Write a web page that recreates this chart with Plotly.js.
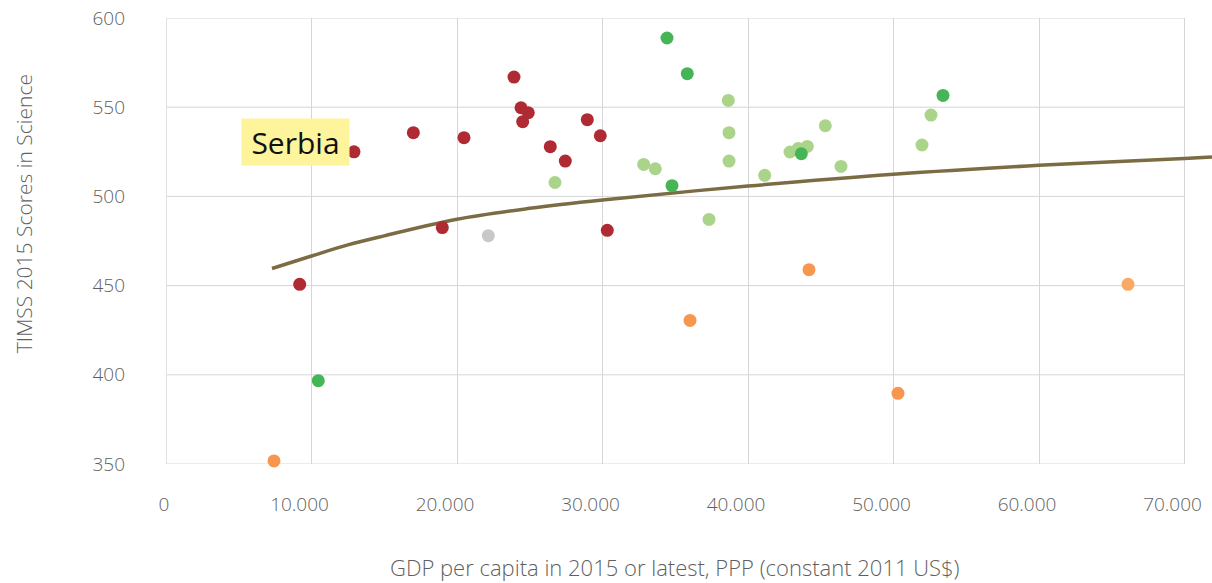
<!DOCTYPE html>
<html>
<head>
<meta charset="utf-8">
<script src="https://cdn.plot.ly/plotly-3.0.1.min.js"></script>
<style>html,body{margin:0;padding:0;background:#fff;}#chart{width:1212px;height:583px;}</style>
</head>
<body>
<div id="chart"></div>
<script>
// GDP per capita (x) and TIMSS 2015 science score (y), by colour group
const redGdp   = [12921, 17000, 20481, 18990, 23918, 24399, 24901, 24515, 28956, 29849, 26412, 27443, 30330, 9189];
const redScore = [525.0, 535.7, 532.9, 482.5, 566.9, 549.7, 546.9, 541.9, 543.0, 534.0, 527.9, 519.8, 481.0, 450.7];

const greenGdp   = [34433, 35828, 34777, 43665, 53402, 10467];
const greenScore = [588.8, 568.8, 506.0, 523.9, 556.6, 396.7];

const lightGreenGdp   = [38646, 38694, 38694, 32830, 33629, 26735, 37320, 41147, 42887, 43459, 44077, 45313, 46392, 51959, 52577];
const lightGreenScore = [553.8, 535.7, 519.8, 517.9, 515.5, 507.8, 487.1, 511.8, 524.9, 526.9, 528.0, 539.6, 516.8, 528.8, 545.6];

const orangeGdp   = [7423, 36014, 44192, 50309, 66117];
const orangeScore = [351.7, 430.5, 458.9, 389.6, 450.7];

const grayGdp   = [22151];
const grayScore = [478.0];

// Trend line
const trendGdp   = [7285, 10000, 12500, 15000, 20000, 25000, 30000, 40000, 50000, 60000, 70000, 71890];
const trendScore = [459.6, 466.6, 472.8, 477.9, 487.2, 493.3, 498.0, 505.8, 512.4, 517.4, 521.2, 522.1];

const yTicks = [350, 400, 450, 500, 550, 600];
const xTicks = [0, 10000, 20000, 30000, 40000, 50000, 60000, 70000];
const xTickText = ['0', '10.000', '20.000', '30.000', '40.000', '50.000', '60.000', '70.000'];

const FONT = '"Open Sans", "Noto Sans", sans-serif';
const GREY = '#5f5f5f';
const mk = (x, y, color) => ({
  type: 'scatter', mode: 'markers', x: x, y: y, cliponaxis: false,
  marker: {size: 13, color: color, line: {width: 0}}, hoverinfo: 'x+y', showlegend: false
});

const traces = [
  {type: 'scatter', mode: 'lines', x: trendGdp, y: trendScore,
   line: {color: '#7B6C43', width: 3.5, shape: 'spline', smoothing: 1}, showlegend: false, hoverinfo: 'skip'},
  mk(lightGreenGdp, lightGreenScore, '#A9D48A'),
  mk(redGdp, redScore, '#B02A33'),
  mk(greenGdp, greenScore, '#46B555'),
  mk(orangeGdp, orangeScore, ['#F7964F', '#F7964F', '#F7964F', '#F7964F', '#F9A966']),
  mk(grayGdp, grayScore, '#C8C8CA')
];

const shapes = yTicks.map(v => ({
  type: 'line', xref: 'x', yref: 'y', x0: 0, x1: 70000, y0: v, y1: v,
  line: {color: '#D6D6D6', width: 1}, layer: 'below'
}));

const layout = {
  width: 1212, height: 583,
  margin: {l: 166, r: 0, t: 18, b: 119},
  paper_bgcolor: '#fff', plot_bgcolor: '#fff',
  font: {family: FONT, color: GREY},
  showlegend: false,
  xaxis: {
    range: [0, 71890], tickvals: xTicks,
    ticktext: xTickText.map(t => t === '0' ? '\u00a0\u00a0\u00a0\u00a0' + t : t),
    showgrid: true, gridcolor: '#D6D6D6', gridwidth: 1,
    zeroline: true, zerolinecolor: '#E2E2E2', zerolinewidth: 1,
    showline: false, ticks: '', ticklabelstandoff: 27, ticklabelshift: -12,
    tickfont: {family: FONT, size: 19, color: GREY, weight: 300}
  },
  yaxis: {
    range: [350, 600], tickvals: yTicks, showgrid: false, zeroline: false, showline: false,
    ticks: '', ticklabelstandoff: 40,
    tickfont: {family: FONT, size: 19, color: GREY, weight: 300}
  },
  shapes: shapes,
  annotations: [
    {xref: 'paper', yref: 'paper', x: 0.4866, y: -0.2315, xanchor: 'center', yanchor: 'middle',
     text: 'GDP per capita in 2015 or latest, PPP (constant 2011 US$)', showarrow: false,
     font: {family: FONT, size: 22, color: GREY, weight: 300}},
    {xref: 'paper', yref: 'paper', x: -0.1358, y: 0.5623, xanchor: 'center', yanchor: 'middle',
     text: 'TIMSS 2015 Scores in Science', showarrow: false, textangle: -90,
     font: {family: FONT, size: 21, color: GREY, weight: 300}},
    {xref: 'x', yref: 'y', x: 8902, y: 530.7, text: 'Serbia', showarrow: false,
     font: {family: FONT, size: 30, color: '#111'}, bgcolor: '#FDF49C',
     width: 105, height: 44, borderpad: 1, xanchor: 'center', yanchor: 'middle'}
  ]
};

Plotly.newPlot('chart', traces, layout, {displayModeBar: false, staticPlot: true});
</script>
</body>
</html>
